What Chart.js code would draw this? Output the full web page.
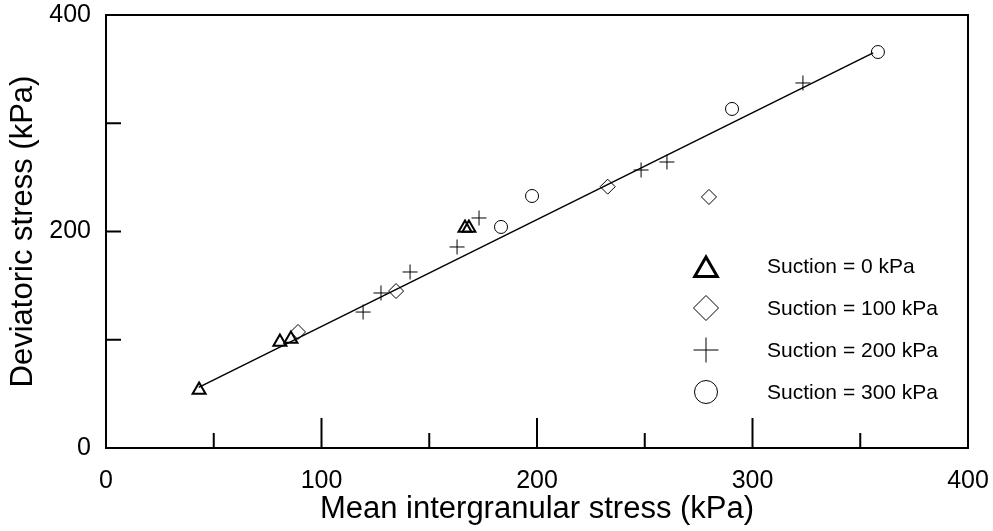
<!DOCTYPE html>
<html>
<head>
<meta charset="utf-8">
<script src="https://cdn.jsdelivr.net/npm/chart.js@4/dist/chart.umd.min.js"></script>
<style>
    body { margin: 0; background: #fff; }
    #wrap { width: 993px; height: 531px; }
</style>
</head>
<body>
<div id="wrap"><canvas id="stressChart" width="993" height="531"></canvas></div>
<script>
// Values (kPa)
const suction0X = [43.2, 80.7, 85.8, 166.6, 168.4];
const suction0Y = [53.6, 98.0, 100.7, 203.3, 203.3];

const suction100X = [89.1, 134.6, 232.8, 279.8];
const suction100Y = [107.2, 145.0, 241.4, 231.9];

const suction200X = [119.3, 127.6, 141.1, 162.9, 173.1, 248.3, 260.3, 323.4];
const suction200Y = [125.6, 143.2, 162.6, 185.7, 212.5, 256.8, 264.2, 337.2];

const suction300X = [183.3, 197.7, 290.5, 358.2];
const suction300Y = [204.2, 232.8, 313.2, 365.8];

// fitted line end points
const fitX = [43, 356];
const fitY = [56, 365];

const seriesLabels = ['Suction = 0 kPa', 'Suction = 100 kPa', 'Suction = 200 kPa', 'Suction = 300 kPa'];
const xTickLabels = [0, 100, 200, 300, 400];
const yTickLabels = [0, 200, 400];

const FONT = "'Liberation Sans', Arial, Helvetica, sans-serif";

function toPoints(xs, ys) {
    return xs.map((x, i) => ({ x: x, y: ys[i] }));
}

// stop the axes from pushing the plot area in for overhanging labels
function noOverhang(scale) {
    scale.paddingLeft = 0;
    scale.paddingRight = 0;
    scale.paddingTop = 0;
    scale.paddingBottom = 0;
}

// outer box and inward tick marks
const framePlugin = {
    id: 'frame',
    afterDraw(chart) {
        const { ctx, chartArea: a, scales } = chart;
        ctx.save();
        ctx.strokeStyle = '#000';
        ctx.lineWidth = 2;
        ctx.strokeRect(a.left, a.top, a.right - a.left, a.bottom - a.top);

        scales.x.ticks.forEach(t => {
            if (t.value <= 0 || t.value >= 400) return;
            const px = scales.x.getPixelForValue(t.value);
            const len = t.value % 100 === 0 ? 30 : 15;
            ctx.beginPath();
            ctx.moveTo(px, a.bottom);
            ctx.lineTo(px, a.bottom - len);
            ctx.stroke();
        });
        scales.y.ticks.forEach(t => {
            if (t.value <= 0 || t.value >= 400) return;
            const py = scales.y.getPixelForValue(t.value);
            ctx.beginPath();
            ctx.moveTo(a.left, py);
            ctx.lineTo(a.left + 15, py);
            ctx.stroke();
        });
        ctx.restore();
    }
};

// legend drawn inside the plot, lower right
const legendPlugin = {
    id: 'insideLegend',
    afterDraw(chart) {
        const { ctx } = chart;
        const rows = [
            { style: 'triangle', r: 13, bw: 3, dy: 4 },
            { style: 'rectRot', r: 12.5, bw: 1, dy: 0 },
            { style: 'cross', r: 12.5, bw: 1, dy: 0 },
            { style: 'circle', r: 11.5, bw: 1, dy: 0 }
        ];
        ctx.save();
        rows.forEach((row, i) => {
            const y = 266 + i * 42;
            ctx.strokeStyle = '#000';
            ctx.fillStyle = 'rgba(0,0,0,0)';
            ctx.lineWidth = row.bw;
            Chart.helpers.drawPoint(ctx, {
                pointStyle: row.style,
                radius: row.r,
                borderWidth: row.bw,
                rotation: 0
            }, 706, y + row.dy);
            ctx.fillStyle = '#000';
            ctx.font = '21px ' + FONT;
            ctx.textAlign = 'left';
            ctx.textBaseline = 'middle';
            ctx.fillText(seriesLabels[i], 767, y + 1);
        });
        ctx.restore();
    }
};

const ctx = document.getElementById('stressChart').getContext('2d');

const markerBase = {
    type: 'scatter',
    borderColor: '#000',
    backgroundColor: 'rgba(0,0,0,0)',
    pointRadius: 7.5,
    pointBorderWidth: 1
};

new Chart(ctx, {
    type: 'scatter',
    data: {
        datasets: [
            {
                ...markerBase,
                label: seriesLabels[0],
                data: toPoints(suction0X, suction0Y),
                pointStyle: 'triangle',
                pointBorderWidth: 2
            },
            {
                ...markerBase,
                label: seriesLabels[1],
                data: toPoints(suction100X, suction100Y),
                pointStyle: 'rectRot'
            },
            {
                ...markerBase,
                label: seriesLabels[2],
                data: toPoints(suction200X, suction200Y),
                pointStyle: 'cross'
            },
            {
                ...markerBase,
                label: seriesLabels[3],
                data: toPoints(suction300X, suction300Y),
                pointStyle: 'circle',
                pointRadius: 6.5
            },
            {
                type: 'line',
                label: 'fit',
                data: toPoints(fitX, fitY),
                borderColor: '#000',
                borderWidth: 1.5,
                pointRadius: 0,
                fill: false
            }
        ]
    },
    options: {
        responsive: false,
        animation: false,
        layout: { padding: { left: 0, right: 25, top: 15, bottom: 0 } },
        plugins: {
            legend: { display: false },
            tooltip: { enabled: false }
        },
        scales: {
            x: {
                type: 'linear',
                min: 0,
                max: 400,
                grid: { display: false, drawTicks: false },
                border: { display: false },
                afterFit: (scale) => { scale.height = 83; noOverhang(scale); },
                ticks: {
                    stepSize: 50,
                    padding: 18,
                    color: '#000',
                    maxRotation: 0,
                    autoSkip: false,
                    font: { family: FONT, size: 25 },
                    callback: (v) => xTickLabels.includes(v) ? String(v) : ''
                },
                title: {
                    display: true,
                    text: 'Mean intergranular stress (kPa)',
                    color: '#000',
                    font: { family: FONT, size: 31 },
                    padding: { top: 0, bottom: 3 }
                }
            },
            y: {
                type: 'linear',
                min: 0,
                max: 400,
                grid: { display: false, drawTicks: false },
                border: { display: false },
                afterFit: (scale) => { scale.width = 106; noOverhang(scale); },
                ticks: {
                    stepSize: 100,
                    padding: 15,
                    color: '#000',
                    autoSkip: false,
                    font: { family: FONT, size: 25 },
                    callback: (v) => yTickLabels.includes(v) ? String(v) : ''
                },
                title: {
                    display: true,
                    text: 'Deviatoric stress (kPa)',
                    color: '#000',
                    font: { family: FONT, size: 31 },
                    padding: { top: 5, bottom: 0 }
                }
            }
        }
    },
    plugins: [framePlugin, legendPlugin]
});
</script>
</body>
</html>
